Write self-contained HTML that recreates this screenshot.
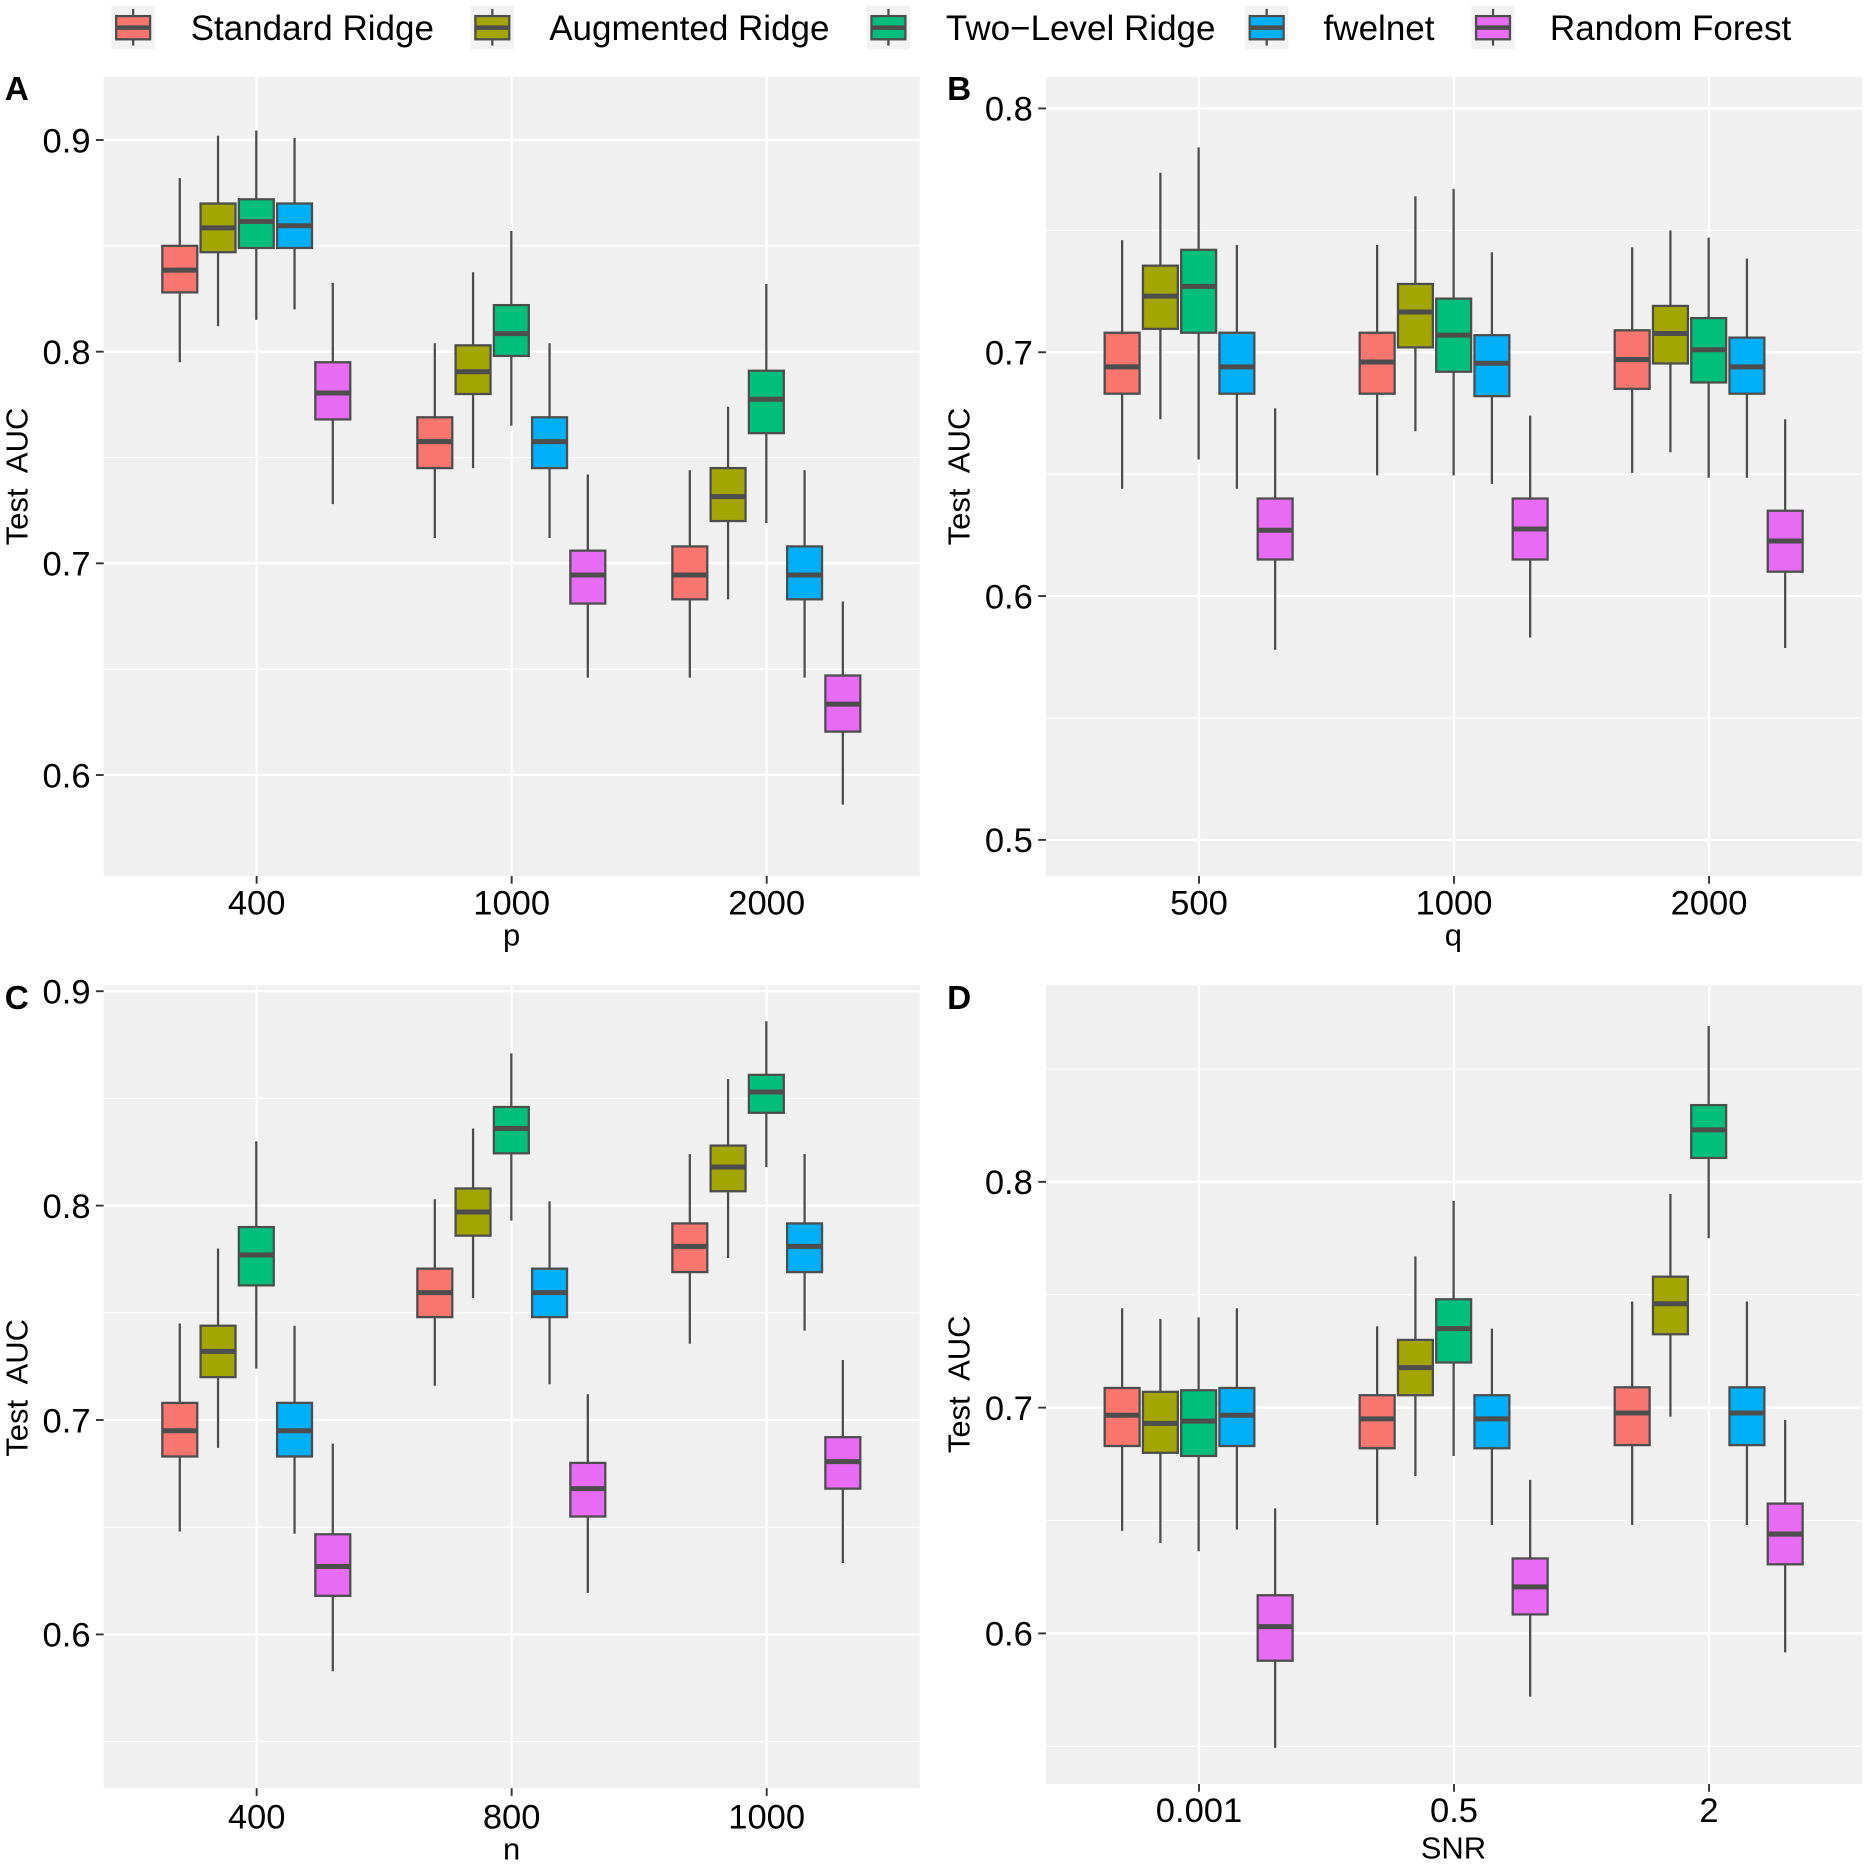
<!DOCTYPE html>
<html lang="en">
<head>
<meta charset="utf-8">
<title>Test AUC boxplots</title>
<style>
html,body{margin:0;padding:0;background:#fff;}
svg{display:block;}
text{font-family:"Liberation Sans",Arial,sans-serif;fill:#000;white-space:pre;}
.tick{font-size:29px;}
.ttl{font-size:26px;}
.tag{font-size:28px;font-weight:bold;}
.leg{font-size:29.4px;}
</style>
</head>
<body>
<svg id="figure" xmlns="http://www.w3.org/2000/svg" width="1868" height="1865" viewBox="0 0 1568 1565.5" preserveAspectRatio="none">
  <rect x="0" y="0" width="1568" height="1565.5" fill="#fff"/>
  <g id="legend">
    <text class="leg" x="160" y="33.6">Standard Ridge</text>
    <text class="leg" x="461" y="33.6">Augmented Ridge</text>
    <text class="leg" x="794" y="33.6">Two−Level Ridge</text>
    <text class="leg" x="1111" y="33.6">fwelnet</text>
    <text class="leg" x="1301" y="33.6">Random Forest</text>
  </g>
  <text class="tag" x="4" y="84">A</text>
  <text class="tag" x="795" y="84">B</text>
  <text class="tag" x="4" y="847">C</text>
  <text class="tag" x="795" y="847">D</text>
  <text class="ttl" text-anchor="middle" transform="translate(23,400) rotate(-90)">Test  AUC</text>
  <text class="ttl" text-anchor="middle" transform="translate(814,400) rotate(-90)">Test  AUC</text>
  <text class="ttl" text-anchor="middle" transform="translate(23,1165) rotate(-90)">Test  AUC</text>
  <text class="ttl" text-anchor="middle" transform="translate(814,1162) rotate(-90)">Test  AUC</text>
  <text class="ttl" text-anchor="middle" x="429.5" y="793.5">p</text>
  <text class="ttl" text-anchor="middle" x="1220" y="793.5">q</text>
  <text class="ttl" text-anchor="middle" x="429.5" y="1561">n</text>
  <text class="ttl" text-anchor="middle" x="1220" y="1560">SNR</text>
</svg>
<script>
// Series names and fill colours
const seriesNames = ['standard-ridge','augmented-ridge','two-level-ridge','fwelnet','random-forest'];
const seriesColors = ['#F8766D','#A3A500','#00BF7D','#00B0F6','#E76BF3'];

// Each row is one category: [whisker high, Q3, median, Q1, whisker low]
// Panel A
const aCategories = ['400','1000','2000'];
const aTicks = ['0.6','0.7','0.8','0.9'];
const aStandard = [[0.882,0.850,0.8385,0.828,0.795],[0.804,0.769,0.7575,0.745,0.712],[0.744,0.708,0.6945,0.683,0.646]];
const aAugmented = [[0.902,0.870,0.8585,0.847,0.812],[0.8375,0.803,0.7905,0.780,0.745],[0.774,0.745,0.7315,0.720,0.683]];
const aTwoLevel = [[0.9045,0.872,0.8615,0.849,0.815],[0.857,0.822,0.8085,0.798,0.765],[0.832,0.791,0.7775,0.7615,0.719]];
const aFwelnet = [[0.901,0.870,0.8595,0.849,0.820],[0.804,0.769,0.7575,0.745,0.712],[0.744,0.708,0.6945,0.683,0.646]];
const aForest = [[0.8325,0.795,0.7805,0.768,0.728],[0.742,0.706,0.6945,0.681,0.646],[0.682,0.647,0.6335,0.6205,0.586]];

// Panel B
const bCategories = ['500','1000','2000'];
const bTicks = ['0.5','0.6','0.7','0.8'];
const bStandard = [[0.746,0.708,0.694,0.683,0.644],[0.744,0.708,0.696,0.683,0.6495],[0.743,0.709,0.697,0.685,0.6505]];
const bAugmented = [[0.7736,0.7355,0.723,0.7096,0.6725],[0.764,0.728,0.7165,0.702,0.6676],[0.750,0.719,0.7077,0.6954,0.659]];
const bTwoLevel = [[0.784,0.742,0.727,0.708,0.656],[0.767,0.722,0.707,0.692,0.6495],[0.747,0.714,0.701,0.6876,0.6485]];
const bFwelnet = [[0.744,0.708,0.694,0.683,0.644],[0.741,0.707,0.6955,0.682,0.646],[0.7384,0.706,0.694,0.683,0.6485]];
const bForest = [[0.677,0.640,0.627,0.615,0.578],[0.674,0.640,0.6275,0.615,0.583],[0.6725,0.635,0.6226,0.610,0.5787]];

// Panel C
const cCategories = ['400','800','1000'];
const cTicks = ['0.6','0.7','0.8','0.9'];
const cStandard = [[0.745,0.708,0.695,0.683,0.648],[0.803,0.7706,0.7594,0.748,0.716],[0.824,0.7917,0.781,0.769,0.7356]];
const cAugmented = [[0.780,0.744,0.732,0.720,0.687],[0.836,0.808,0.797,0.786,0.757],[0.859,0.828,0.818,0.8067,0.7756]];
const cTwoLevel = [[0.830,0.790,0.777,0.7628,0.724],[0.871,0.846,0.836,0.8244,0.793],[0.886,0.861,0.853,0.8433,0.818]];
const cFwelnet = [[0.744,0.708,0.695,0.683,0.647],[0.802,0.7706,0.7594,0.748,0.7167],[0.824,0.7917,0.781,0.769,0.7417]];
const cForest = [[0.689,0.6467,0.6317,0.618,0.5828],[0.712,0.680,0.668,0.655,0.6194],[0.728,0.692,0.6806,0.668,0.6333]];

// Panel D
const dCategories = ['0.001','0.5','2'];
const dTicks = ['0.6','0.7','0.8'];
const dStandard = [[0.744,0.7087,0.6966,0.683,0.6454],[0.736,0.7055,0.695,0.682,0.648],[0.747,0.709,0.6976,0.6834,0.648]];
const dAugmented = [[0.7393,0.707,0.693,0.680,0.640],[0.767,0.730,0.7177,0.7055,0.6697],[0.7947,0.758,0.746,0.7325,0.696]];
const dTwoLevel = [[0.740,0.7077,0.694,0.6786,0.6364],[0.7916,0.748,0.735,0.720,0.6786],[0.869,0.834,0.823,0.8106,0.775]];
const dFwelnet = [[0.744,0.7087,0.6966,0.683,0.646],[0.735,0.7055,0.695,0.682,0.648],[0.747,0.709,0.6976,0.6834,0.648]];
const dForest = [[0.6554,0.6169,0.603,0.5879,0.5493],[0.668,0.6332,0.6206,0.6084,0.572],[0.6945,0.6575,0.644,0.6306,0.5916]];

const NS = 'http://www.w3.org/2000/svg';
const svg = document.getElementById('figure');
const INK = '#4d4d4d';

function el(tag, attrs, parent, txt) {
  const n = document.createElementNS(NS, tag);
  for (const k in attrs) n.setAttribute(k, attrs[k]);
  if (txt !== undefined) n.textContent = txt;
  parent.appendChild(n);
  return n;
}

function drawPanel(id, box, vMin, vMax, categories, ticks, series) {
  const g = el('g', {}, svg);
  
  
  const y = v => box.bottom - (v - vMin) / (vMax - vMin) * (box.bottom - box.top);
  const x = u => box.left + (u + 0.6) / 3.2 * (box.right - box.left);

  const bg = el('rect', {x: box.left, y: box.top, width: box.right - box.left, height: box.bottom - box.top, fill: '#f0f0f0'}, g);
  
  

  // minor gridlines, one tick step apart from majors
  const tv = ticks.map(Number);
  const step = tv[1] - tv[0];
  for (let m = tv[0] - step / 2; m < vMax; m += step) {
    if (m <= vMin) continue;
    const line = el('line', {x1: box.left, x2: box.right, y1: y(m), y2: y(m), stroke: '#fff', 'stroke-width': 0.9}, g);
    
    
  }
  // major horizontal gridlines, ticks, labels
  ticks.forEach(t => {
    const v = Number(t);
    const line = el('line', {x1: box.left, x2: box.right, y1: y(v), y2: y(v), stroke: '#fff', 'stroke-width': 1.8}, g);
    
    
    const tk = el('line', {x1: box.left - 6.5, x2: box.left, y1: y(v), y2: y(v), stroke: '#333', 'stroke-width': 1.6}, g);
    
    
    const lb = el('text', {class: 'tick', x: box.left - 11, y: y(v) + 10.3, 'text-anchor': 'end'}, g, t);
    
    
  });
  // vertical gridlines, ticks, labels
  categories.forEach((c, i) => {
    const cx = x(i);
    const line = el('line', {x1: cx, x2: cx, y1: box.top, y2: box.bottom, stroke: '#fff', 'stroke-width': 1.8}, g);
    
    
    const tk = el('line', {x1: cx, x2: cx, y1: box.bottom, y2: box.bottom + 6.5, stroke: '#333', 'stroke-width': 1.6}, g);
    
    
    const lb = el('text', {class: 'tick', x: cx, y: box.bottom + box.labelGap, 'text-anchor': 'middle'}, g, c);
    
    
  });
  // boxes
  series.forEach((rows, s) => {
    rows.forEach((r, i) => {
      const u = i + (s - 2) * 0.15;
      const cx = x(u) - 0.3;
      const w = 0.137 * (box.right - box.left) / 3.2;
      const bx = el('g', {}, g);
      
      
      el('line', {x1: cx, x2: cx, y1: y(r[0]), y2: y(r[4]), stroke: INK, 'stroke-width': 1.9}, bx);
      el('rect', {x: cx - w / 2, y: y(r[1]), width: w, height: y(r[3]) - y(r[1]), fill: seriesColors[s], stroke: INK, 'stroke-width': 1.9}, bx);
      el('line', {x1: cx - w / 2, x2: cx + w / 2, y1: y(r[2]), y2: y(r[2]), stroke: INK, 'stroke-width': 4.2}, bx);
    });
  });
}

drawPanel('a', {left: 87, right: 772, top: 64.4, bottom: 735.3, labelGap: 32.5}, 0.5523, 0.9299, aCategories, aTicks, [aStandard, aAugmented, aTwoLevel, aFwelnet, aForest]);
drawPanel('b', {left: 878, right: 1563, top: 64.4, bottom: 735.3, labelGap: 32.5}, 0.4852, 0.813, bCategories, bTicks, [bStandard, bAugmented, bTwoLevel, bFwelnet, bForest]);
drawPanel('c', {left: 87, right: 772, top: 827, bottom: 1501, labelGap: 34}, 0.5283, 0.9028, cCategories, cTicks, [cStandard, cAugmented, cTwoLevel, cFwelnet, cForest]);
drawPanel('d', {left: 878, right: 1563, top: 827, bottom: 1497.5, labelGap: 32}, 0.5333, 0.8871, dCategories, dTicks, [dStandard, dAugmented, dTwoLevel, dFwelnet, dForest]);

// legend keys
const keyLefts = [93.5, 395, 727.5, 1045, 1235];
const legend = document.getElementById('legend');
seriesColors.forEach((col, i) => {
  const k = el('g', {}, legend);
  
  
  const lx = keyLefts[i];
  el('rect', {x: lx, y: 4.8, width: 36.5, height: 36.5, fill: '#f2f2f2'}, k);
  el('line', {x1: lx + 18.25, x2: lx + 18.25, y1: 7.5, y2: 38.3, stroke: INK, 'stroke-width': 1.9}, k);
  el('rect', {x: lx + 4, y: 13.5, width: 28.5, height: 19.5, fill: col, stroke: INK, 'stroke-width': 1.9}, k);
  el('line', {x1: lx + 4, x2: lx + 32.5, y1: 23.2, y2: 23.2, stroke: INK, 'stroke-width': 3.8}, k);
});
</script>
</body>
</html>
